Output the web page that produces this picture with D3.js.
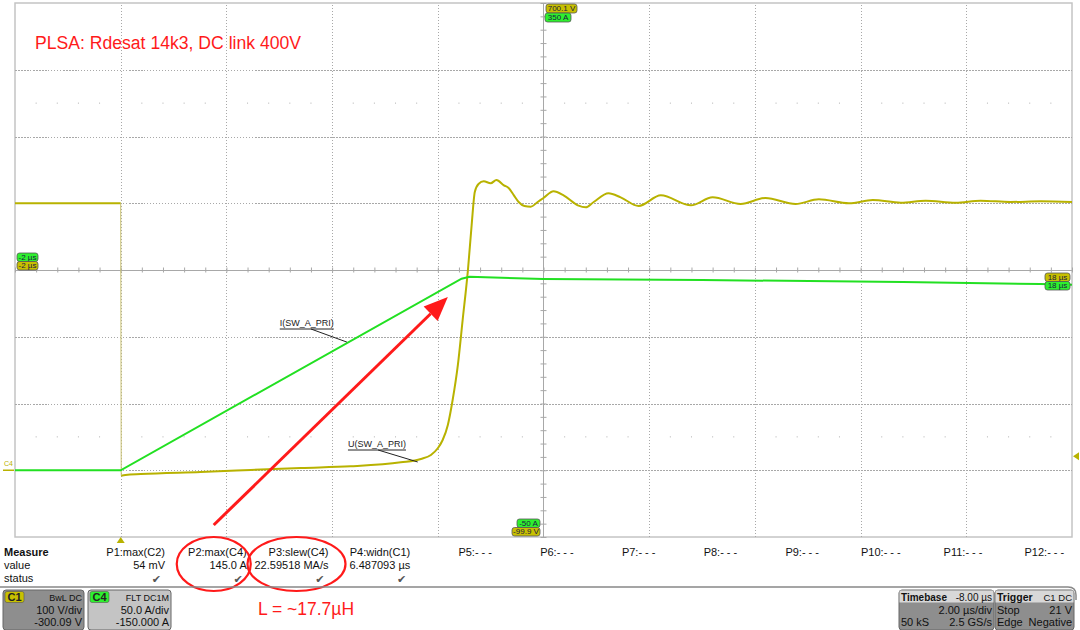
<!DOCTYPE html>
<html><head><meta charset="utf-8">
<script src="https://cdn.jsdelivr.net/npm/d3@7"></script>
<style>body{margin:0;background:#fff;} svg{display:block;font-family:"Liberation Sans",Arial,sans-serif;}</style>
</head><body><svg id="c" width="1080" height="630"></svg>
<script>
// ---- data (time in µs, voltage in V, current in A) ----
const vTimes  = [-2.0,-0.04,0.0,0.01,0.09,0.38,1.51,2.46,3.41,4.35,5.30,5.68,5.87,6.00,6.09,6.19,6.28,6.38,6.47,6.57,6.64,6.70,6.77,6.87,7.00,7.11,7.25,7.34,7.44,7.53,7.64,7.76,7.89,8.00,8.19,8.38,8.65,8.80,8.95,9.23,9.46,9.80,10.22,10.79,11.20,11.73,12.20,12.77,13.21,13.78,14.23,14.76,15.23,15.80,16.27,16.84,17.41,18.0];
const vValues = [400,400,400,-8,-7,-5.5,-2.5,0.5,3.5,6,12,17,23,33,45,68,105,158,225,300,367,417,429,433,430,435,427,423,412,402,396,395,402,408,418,412,397,394,402,415,409,396,412,397,409,399,408,399,406,400,405,401,404,401,404,402,403,402];
const iTimes  = [-2.0,0.0,6.45,6.60,6.90,8.0,11.0,14.8,17.4,18.0];
const iValues = [0,0,143.5,145,144.5,143.3,142.5,141,139.5,139];
const gridTimes = [0,2,4,6,10,12,14,16];
const gridVolts = [0.1,100.1,200.1,400.1,500.1,600.1];
const measureHeads = ["P1:max(C2)","P2:max(C4)","P3:slew(C4)","P4:widn(C1)","P5:- - -","P6:- - -","P7:- - -","P8:- - -","P9:- - -","P10:- - -","P11:- - -","P12:- - -"];
const measureValues = ["54 mV","145.0 A","22.59518 MA/s","6.487093 µs"];
const measureStatus = ["✔","✔","✔","✔"];

const YEL = "#b8b200", GRN = "#22e022", RED = "#ff1a1a";
const svg = d3.select("#c");
const X0=15, X1=1072, Y0=3, Y1=537;
const x  = d3.scaleLinear().domain([-2,18]).range([X0,X1]);
const yV = d3.scaleLinear().domain([-99.9,700.1]).range([Y1,Y0]);
const yI = d3.scaleLinear().domain([-50,350]).range([Y1,Y0]);

// frame
svg.append("rect").attr("x",X0).attr("y",Y0).attr("width",X1-X0).attr("height",Y1-Y0)
  .attr("fill","#fff").attr("stroke","#c4c4c4").attr("stroke-width",1.5);

// dotted grid via axes
const gx = svg.append("g").attr("transform",`translate(0,${Y1})`)
  .call(d3.axisBottom(x).tickValues(gridTimes).tickSize(-(Y1-Y0)).tickFormat(""));
const gy = svg.append("g").attr("transform",`translate(${X0},0)`)
  .call(d3.axisLeft(yV).tickValues(gridVolts).tickSize(-(X1-X0)).tickFormat(""));
[gx,gy].forEach(g=>{g.select(".domain").remove();
  g.selectAll("line").attr("stroke","#a8a8a8").attr("stroke-dasharray","1.5,1.5").attr("shape-rendering","crispEdges");});

// sub-division dot rows
const subT = d3.range(-2,18.001,0.4).filter(t=>Math.abs(((t+2)/2)%1)>0.05 && Math.abs(((t+2)/2)%1)<0.95);
[550.1,50.1].forEach(v=>{
  svg.append("g").selectAll("rect").data(subT).join("rect")
    .attr("x",d=>x(d)-0.5).attr("y",yV(v)-0.5).attr("width",1).attr("height",1).attr("fill","#b0b0b0");
});

// center lines with ticks
svg.append("line").attr("x1",X0).attr("x2",X1).attr("y1",yV(300.1)).attr("y2",yV(300.1)).attr("stroke","#a8a8a8").attr("shape-rendering","crispEdges");
svg.append("line").attr("x1",x(8)).attr("x2",x(8)).attr("y1",Y0).attr("y2",Y1).attr("stroke","#a8a8a8").attr("shape-rendering","crispEdges");
const ht = svg.append("g").attr("transform",`translate(0,${yV(300.1)+2.5})`)
  .call(d3.axisBottom(x).tickValues(d3.range(-2,18.001,0.4)).tickSize(-5).tickFormat(""));
const vt = svg.append("g").attr("transform",`translate(${x(8)+3},0)`)
  .call(d3.axisLeft(yV).tickValues(d3.range(-99.9,700.2,20)).tickSize(6).tickFormat(""));
[ht,vt].forEach(g=>{g.select(".domain").remove(); g.selectAll("line").attr("stroke","#a8a8a8");});

// traces
const pts = (ts,vs)=>ts.map((t,i)=>[t,vs[i]]);
const vPts = pts(vTimes,vValues);
let dropIdx = 1; vPts.forEach((p,i)=>{ if(i>0 && vPts[i-1][1]-p[1]>200) dropIdx=i; });
const vLine = d3.line().x(d=>x(d[0])).y(d=>yV(d[1]));
svg.append("path").datum(vPts.slice(0,dropIdx))
  .attr("d",vLine).attr("fill","none").attr("stroke",YEL).attr("stroke-width",2);
svg.append("path").datum(vPts.slice(dropIdx-1,dropIdx+1))
  .attr("d",vLine).attr("fill","none").attr("stroke","#c8c070").attr("stroke-width",1);
svg.append("path").datum(vPts.slice(dropIdx))
  .attr("d",vLine.curve(d3.curveMonotoneX)).attr("fill","none").attr("stroke",YEL).attr("stroke-width",2).attr("stroke-linejoin","round");
svg.append("path").datum(pts(iTimes,iValues))
  .attr("d",d3.line().x(d=>x(d[0])).y(d=>yI(d[1]))).attr("fill","none").attr("stroke",GRN).attr("stroke-width",2);

// trace labels
function traceLabel(txt, tx, ty, px, py, lx){
  const t = svg.append("text").attr("x",tx).attr("y",ty).attr("font-size",9).attr("fill","#222").text(txt);
  const w = t.node().getComputedTextLength();
  svg.append("line").attr("x1",tx).attr("x2",tx+w).attr("y1",ty+3).attr("y2",ty+3).attr("stroke","#222");
  svg.append("line").attr("x1",lx).attr("y1",ty+3).attr("x2",px).attr("y2",py).attr("stroke","#222");
}
traceLabel("I(SW_A_PRI)", x(3.01), 326, x(4.28), yI(96), x(3.6));
traceLabel("U(SW_A_PRI)", x(4.30), 447, x(5.62), yV(12.5), x(4.87));

// title
svg.append("text").attr("x",35).attr("y",49).attr("font-size",17.6).attr("fill",RED).text("PLSA: Rdesat 14k3, DC link 400V");

// small edge label boxes
function tag(xl, yt, w, h, fill, txt){
  svg.append("rect").attr("x",xl).attr("y",yt).attr("width",w).attr("height",h).attr("rx",2.5)
    .attr("fill",fill).attr("stroke","#555").attr("stroke-width",0.8);
  svg.append("text").attr("x",xl+w/2).attr("y",yt+h-1.8).attr("font-size",8).attr("text-anchor","middle").attr("fill","#1a1a40").text(txt);
}
tag(546,4,31,9,"#c8c000","700.1 V");
tag(545,13,26,9,"#2ef02e","350 A");
tag(17,253,21,8.5,"#2ef02e","-2 µs");
tag(17,261.5,21,8.5,"#c8c000","-2 µs");
tag(1045,273,25,8.5,"#c8c000","18 µs");
tag(1045,281.5,25,8.5,"#2ef02e","18 µs");
tag(517,519,23,8.5,"#2ef02e","-50 A");
tag(512,527.5,28,8.5,"#c8c000","-99.9 V");

// channel / trigger markers
svg.append("text").attr("x",4).attr("y",466).attr("font-size",7).attr("fill",YEL).text("C4");
svg.append("line").attr("x1",3).attr("x2",14).attr("y1",yI(0)).attr("y2",yI(0)).attr("stroke",YEL).attr("stroke-width",1.5);
svg.append("path").attr("d",`M${x(0)-4},${Y1+6}L${x(0)},${Y1}L${x(0)+4},${Y1+6}Z`).attr("fill",YEL);
svg.append("path").attr("d",`M${X1+7},${yV(21)-4}L${X1+1},${yV(21)}L${X1+7},${yV(21)+4}Z`).attr("fill",YEL);

// red arrow annotation
const ax1=x(1.76), ay1=yI(-41), ax2=x(6.19), ay2=yI(129.8);
const ang=Math.atan2(ay2-ay1, ax2-ax1), L=24, W=10;
const bx=ax2-L*Math.cos(ang), by=ay2-L*Math.sin(ang);
svg.append("line").attr("x1",ax1).attr("y1",ay1).attr("x2",bx).attr("y2",by).attr("stroke",RED).attr("stroke-width",3);
svg.append("path").attr("d",`M${ax2},${ay2}L${bx+W*Math.sin(ang)},${by-W*Math.cos(ang)}L${bx-W*Math.sin(ang)},${by+W*Math.cos(ang)}Z`).attr("fill",RED);

// measurement table
const colR = measureHeads.map((d,i)=>165+i*81.75);
svg.append("text").attr("x",4).attr("y",556).attr("font-size",11).attr("font-weight","bold").attr("fill","#111").text("Measure");
svg.append("text").attr("x",4).attr("y",569).attr("font-size",11).attr("fill","#111").text("value");
svg.append("text").attr("x",4).attr("y",582).attr("font-size",11).attr("fill","#111").text("status");
svg.append("g").selectAll("text").data(measureHeads).join("text")
  .attr("x",(d,i)=>colR[i]).attr("y",556).attr("font-size",11).attr("text-anchor","end").attr("fill","#111").text(d=>d);
svg.append("g").selectAll("text").data(measureValues).join("text")
  .attr("x",(d,i)=>colR[i]).attr("y",569).attr("font-size",11).attr("text-anchor","end").attr("fill","#111").text(d=>d);
svg.append("g").selectAll("text").data(measureStatus).join("text")
  .attr("x",(d,i)=>colR[i]-4).attr("y",583).attr("font-size",11).attr("text-anchor","end").attr("fill","#555").attr("font-family","DejaVu Sans").text(d=>d);

// red ellipses + L text
svg.append("ellipse").attr("cx",colR[1]-33).attr("cy",564).attr("rx",37).attr("ry",27).attr("fill","none").attr("stroke",RED).attr("stroke-width",2.2);
svg.append("ellipse").attr("cx",colR[2]-32).attr("cy",564).attr("rx",49).attr("ry",27).attr("fill","none").attr("stroke",RED).attr("stroke-width",2.2);
svg.append("text").attr("x",258).attr("y",615).attr("font-size",17.5).attr("fill",RED).text("L = ~17.7µH");

// separator
svg.append("path").attr("d","M0,587H1068Q1076,587 1076,595V600").attr("fill","none").attr("stroke","#888").attr("stroke-width",1.5);

// info boxes
function infoBox(xl, w, headFill, bodyFill, lines, badge){
  const yt=590, h=40;
  svg.append("rect").attr("x",xl).attr("y",yt).attr("width",w).attr("height",h).attr("rx",3).attr("fill",bodyFill).attr("stroke","#666");
  if(headFill) svg.append("rect").attr("x",xl+0.5).attr("y",yt+0.5).attr("width",w-1).attr("height",12).attr("fill",headFill);
  if(badge){
    svg.append("rect").attr("x",xl+2).attr("y",yt+1.5).attr("width",19).attr("height",11).attr("rx",2).attr("fill",badge.fill).attr("stroke","#555").attr("stroke-width",0.6);
    svg.append("text").attr("x",xl+11.5).attr("y",yt+11).attr("font-size",11).attr("font-weight","bold").attr("text-anchor","middle").attr("fill","#222").text(badge.text);
  }
  lines.forEach((ln,i)=>{
    const yy = yt+11+i*12.5;
    if(ln.l) svg.append("text").attr("x",xl+2).attr("y",yy).attr("font-size",ln.ls||11).attr("font-weight",ln.lb?"bold":"normal").attr("fill","#111").text(ln.l);
    if(ln.r) svg.append("text").attr("x",xl+w-2).attr("y",yy).attr("font-size",ln.rs||11).attr("text-anchor","end").attr("fill","#111").text(ln.r);
  });
}
infoBox(3,81,null,"#8e8e8e",[{r:"BwL DC",rs:9},{r:"100 V/div"},{r:"-300.09 V"}],{fill:"#c8c000",text:"C1"});
infoBox(88,83,null,"#c4c4c4",[{r:"FLT  DC1M",rs:9},{r:"50.0 A/div"},{r:"-150.000 A"}],{fill:"#2ef02e",text:"C4"});
infoBox(899,95,"#d8d8d8","#8e8e8e",[{l:"Timebase",lb:true,ls:10,r:"-8.00 µs",rs:10},{r:"2.00 µs/div"},{l:"50 kS",r:"2.5 GS/s"}]);
infoBox(995,79,"#d8d8d8","#8e8e8e",[{l:"Trigger",lb:true,ls:10.5,r:"C1  DC",rs:9.5},{l:"Stop",r:"21 V"},{l:"Edge",r:"Negative"}]);
</script></body></html>
